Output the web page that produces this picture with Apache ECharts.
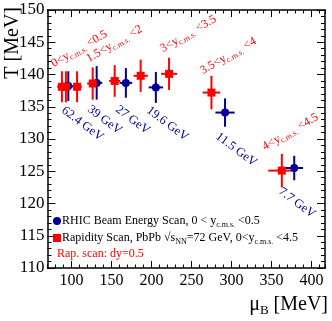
<!DOCTYPE html>
<html>
<head>
<meta charset="utf-8">
<script src="https://cdn.jsdelivr.net/npm/echarts@6/dist/echarts.min.js"></script>
<style>
html, body { margin: 0; padding: 0; background: #fff; }
#chart { width: 332px; height: 321px; }
</style>
</head>
<body>
<div id="chart"></div>
<script>
// RHIC beam energy scan, 0 < y < 0.5
const besMuB = [96, 131.5, 168, 205.5, 292, 378.5];
const besT = [138.2, 138.7, 138.7, 138.0, 134.1, 125.5];
const besMuBErr = [6, 7, 8, 9, 12, 11];
const besTErr = [2.3, 2.6, 2.3, 2.4, 2.2, 1.9];
const besLabels = ['62.4 GeV', '39 GeV', '27 GeV', '19.6 GeV', '11.5 GeV', '7.7 GeV'];

// rapidity scan PbPb, dy = 0.5 bins from 0 to 4.5
const rapMuB = [88, 93, 107, 126.5, 154, 186.5, 222, 275, 363];
const rapT = [138.1, 138.1, 138.1, 138.6, 139.0, 139.8, 140.1, 137.2, 125.1];
const rapMuBErr = [6, 6, 6, 7, 7, 9, 10, 11, 17];
const rapTErr = [2.4, 2.4, 2.4, 2.5, 2.45, 2.5, 2.5, 2.6, 2.6];
const rapLabels = ['0<y{s|c.m.s.} <0.5', '1.5<y{s|c.m.s.} <2', '3<y{s|c.m.s.} <3.5', '3.5<y{s|c.m.s.} <4', '4<y{s|c.m.s.} <4.5'];

const xTicks = [100, 150, 200, 250, 300, 350, 400];

const RED = '#ff0000';
const BLUE = '#000099';
const FONT = '"Liberation Serif", "Times New Roman", serif';

// where the rotated labels sit (pixels)
const rapLabelPos = [[56, 71], [91, 66], [165, 56], [205, 78], [267, 154]];
const besLabelPos = [[67, 104], [93, 103], [121, 103], [152, 104], [221, 130], [284, 185]];

const subStyle = { fontSize: 8, fontFamily: FONT, padding: [7, 0, 0, 0] };

function errorBars(color) {
  return function (params, api) {
    const x = api.value(0), y = api.value(1), ex = api.value(2), ey = api.value(3);
    const l = api.coord([x - ex, y]), r = api.coord([x + ex, y]);
    const b = api.coord([x, y - ey]), t = api.coord([x, y + ey]);
    const style = { stroke: color, lineWidth: 2 };
    return {
      type: 'group',
      children: [
        { type: 'line', shape: { x1: l[0], y1: l[1], x2: r[0], y2: r[1] }, style: style },
        { type: 'line', shape: { x1: t[0], y1: t[1], x2: b[0], y2: b[1] }, style: style }
      ]
    };
  };
}

const axisLine = { show: true, onZero: false, lineStyle: { color: '#000', width: 1.5 } };

function xAxis(pos, major) {
  return {
    type: 'value', position: pos, min: 70, max: 417,
    interval: major ? undefined : 10,
    axisLine: major ? axisLine : { show: false },
    axisTick: major
      ? { show: true, inside: true, length: 7, customValues: xTicks, lineStyle: { color: '#000' } }
      : { show: true, inside: true, length: 3.5, lineStyle: { color: '#000' } },
    axisLabel: (major && pos === 'bottom')
      ? { show: true, customValues: xTicks, margin: 5, color: '#000', fontSize: 16, fontFamily: FONT }
      : { show: false },
    splitLine: { show: false }
  };
}

function yAxis(pos) {
  return {
    type: 'value', position: pos, min: 110, max: 150, interval: 5,
    axisLine: axisLine,
    axisTick: { show: true, inside: true, length: 8, lineStyle: { color: '#000' } },
    minorTick: { show: true, splitNumber: 5, length: 4, lineStyle: { color: '#000' } },
    axisLabel: pos === 'left'
      ? { show: true, margin: 3, color: '#000', fontSize: 17, fontFamily: FONT }
      : { show: false },
    splitLine: { show: false }
  };
}

const graphics = [
  {
    type: 'text', x: 13, y: 7, rotation: Math.PI / 2,
    style: { text: 'T [MeV]', fill: '#000', font: '20px ' + FONT, align: 'right', verticalAlign: 'middle' }
  },
  {
    type: 'text', x: 328, y: 305,
    style: {
      text: 'μ{b|B} [MeV]', fill: '#000', font: '20px ' + FONT, align: 'right', verticalAlign: 'middle',
      rich: { b: { fontSize: 13, fontFamily: FONT, padding: [12, 0, 0, 0] } }
    }
  },
  {
    type: 'text', x: 57, y: 254,
    style: { text: 'Rap. scan: dy=0.5', fill: RED, font: '12px ' + FONT, align: 'left', verticalAlign: 'middle' }
  }
];
rapLabels.forEach(function (t, i) {
  graphics.push({
    type: 'text', x: rapLabelPos[i][0], y: rapLabelPos[i][1], rotation: Math.PI / 6,
    style: { text: t, fill: RED, font: '12px ' + FONT, align: 'left', verticalAlign: 'bottom', rich: { s: subStyle } }
  });
});
besLabels.forEach(function (t, i) {
  graphics.push({
    type: 'text', x: besLabelPos[i][0], y: besLabelPos[i][1], rotation: -37 * Math.PI / 180,
    style: { text: t, fill: BLUE, font: '12.5px ' + FONT, align: 'left', verticalAlign: 'top' }
  });
});

const legendNames = {
  bes: 'RHIC Beam Energy Scan, 0 < y{s|c.m.s.} <0.5',
  rap: 'Rapidity Scan, PbPb √s{s|NN}=72 GeV, 0<y{s|c.m.s.} <4.5'
};
function legendAt(name, top) {
  return {
    data: [name], left: 53, top: top, itemWidth: 8, itemHeight: 8, itemGap: 0,
    padding: 0,
    formatter: function (n) { return legendNames[n]; },
    textStyle: { color: '#000', fontSize: 12, fontFamily: FONT, padding: [0, 0, 0, -4], rich: { s: subStyle } }
  };
}

const chart = echarts.init(document.getElementById('chart'));
chart.setOption({
  animation: false,
  textStyle: { fontFamily: FONT },
  grid: { left: 47.5, right: 7, top: 10, bottom: 53, outerBoundsMode: 'none' },
  xAxis: [xAxis('bottom', true), xAxis('bottom', false), xAxis('top', true), xAxis('top', false)],
  yAxis: [yAxis('left'), yAxis('right')],
  legend: [legendAt('bes', 215), legendAt('rap', 232)],
  graphic: graphics,
  series: [
    {
      type: 'custom', silent: true, renderItem: errorBars(BLUE),
      encode: { x: 0, y: 1 },
      data: besMuB.map(function (v, i) { return [v, besT[i], besMuBErr[i], besTErr[i]]; })
    },
    {
      name: 'bes', type: 'scatter', symbol: 'circle', symbolSize: 8,
      itemStyle: { color: BLUE, opacity: 1 },
      data: besMuB.map(function (v, i) { return [v, besT[i]]; })
    },
    {
      type: 'custom', silent: true, renderItem: errorBars(RED),
      encode: { x: 0, y: 1 },
      data: rapMuB.map(function (v, i) { return [v, rapT[i], rapMuBErr[i], rapTErr[i]]; })
    },
    {
      name: 'rap', type: 'scatter', symbol: 'rect', symbolSize: 8,
      itemStyle: { color: RED, opacity: 1 },
      data: rapMuB.map(function (v, i) { return [v, rapT[i]]; })
    }
  ]
});
</script>
</body>
</html>
